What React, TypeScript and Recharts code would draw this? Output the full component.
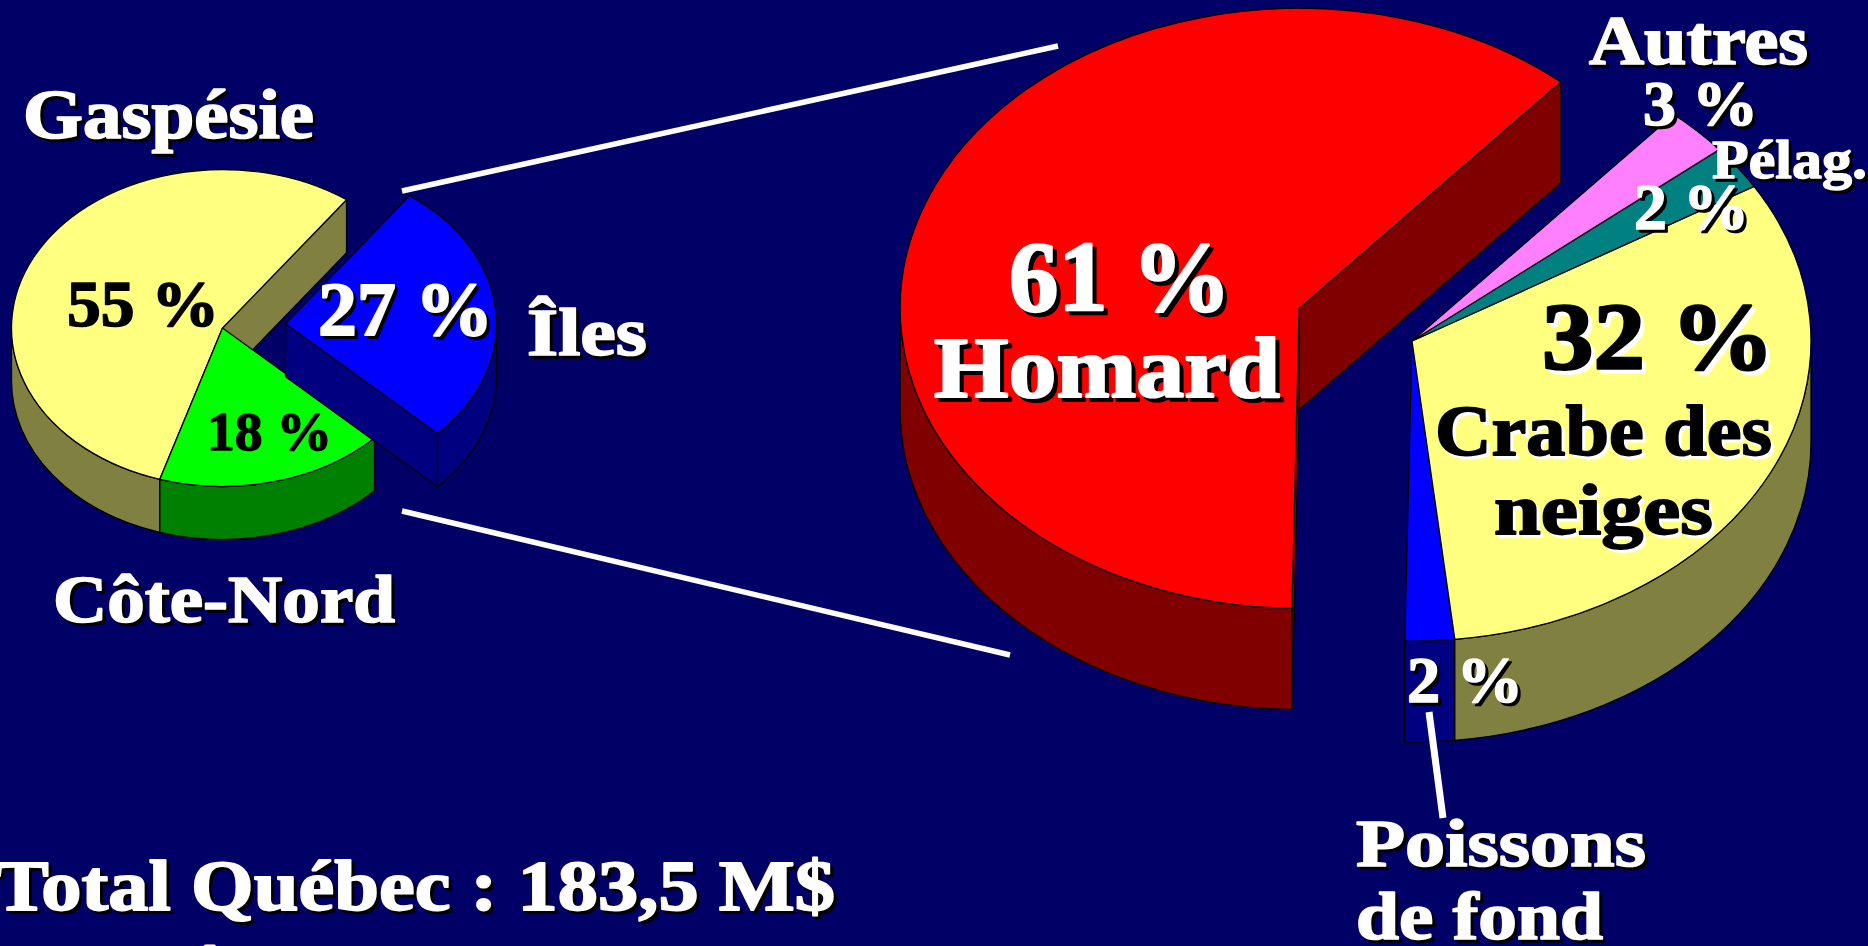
import { Pie, PieChart } from "recharts";

const WIDTH = 1868;
const HEIGHT = 946;
const BACKGROUND = "#000066";

// share of landings by region
const regionNames = ["Gaspésie", "Côte-Nord", "Îles"];
const regionValues = [55.2, 17.6, 27.2];
const regionTops = ["#FFFF80", "#00FF00", "#0000FF"];
const regionSides = ["#808040", "#008000", "#000080"];
const regionExplode = [0, 0, 0.3];

// share by species
const speciesNames = ["Homard", "Poissons de fond", "Crabe des neiges", "Pélag.", "Autres"];
const speciesValues = [61.1, 2, 31.9, 2.4, 2.6];
const speciesTops = ["#FF0000", "#0000FF", "#FFFF80", "#008080", "#FF80FF"];
const speciesSides = ["#800000", "#000080", "#808040", "#004040", "#804080"];
const speciesExplode = [0.303, 0, 0, 0, 0];

const toRows = (names: string[], values: number[]) =>
  names.map((name, i) => ({ name, value: values[i] }));

type SliceStyle = {
  names: string[];
  tops: string[];
  sides: string[];
  explode: number[];
  tilt: number;
  depth: number;
};

const rad = (a: number) => (a * Math.PI) / 180;

// recharts gives the angles, this squashes the sector into a tilted 3D one
function slice3d({ names, tops, sides, explode, tilt, depth }: SliceStyle) {
  return function Slice3d(props: any) {
    const { cx, cy, outerRadius, startAngle, endAngle } = props;
    const i = names.indexOf(props.name ?? props.payload?.name);
    const n = names.length;
    const s = Math.min(startAngle, endAngle);
    const e = Math.max(startAngle, endAngle);
    const rx = outerRadius;
    const ry = outerRadius * tilt;
    const mid = rad((s + e) / 2);
    const ox = cx + explode[i] * rx * Math.cos(mid);
    const oy = cy - explode[i] * ry * Math.sin(mid);
    const px = (a: number) => ox + rx * Math.cos(rad(a));
    const py = (a: number, down = 0) => oy - ry * Math.sin(rad(a)) + down;

    const walls: string[] = [];
    for (let k = 0; k < 3; k++) {
      const lo = Math.max(s, 180 + 360 * k);
      const hi = Math.min(e, 360 + 360 * k);
      if (hi > lo) {
        walls.push(
          `M${px(lo)},${py(lo)} A${rx},${ry} 0 0 0 ${px(hi)},${py(hi)} ` +
            `L${px(hi)},${py(hi, depth)} A${rx},${ry} 0 0 1 ${px(lo)},${py(lo, depth)} Z`,
        );
      }
    }

    const face = (a: number) =>
      `M${ox},${oy} L${px(a)},${py(a)} L${px(a)},${py(a, depth)} L${ox},${oy + depth} Z`;
    const faces: string[] = [];
    if (explode[i] !== explode[(i - 1 + n) % n] && Math.cos(rad(s)) > 0) faces.push(face(s));
    if (explode[i] !== explode[(i + 1) % n] && Math.cos(rad(e)) < 0) faces.push(face(e));

    const large = e - s > 180 ? 1 : 0;
    const top = `M${ox},${oy} L${px(s)},${py(s)} A${rx},${ry} 0 ${large} 0 ${px(e)},${py(e)} Z`;

    return (
      <g stroke="#000" strokeWidth={1.3} strokeLinejoin="round">
        {faces.map((d) => (
          <path key={d} d={d} fill={sides[i]} />
        ))}
        {walls.map((d) => (
          <path key={d} d={d} fill={sides[i]} />
        ))}
        <path d={top} fill={tops[i]} />
      </g>
    );
  };
}

const regionSlice = slice3d({
  names: regionNames,
  tops: regionTops,
  sides: regionSides,
  explode: regionExplode,
  tilt: 0.751,
  depth: 53,
});

const speciesSlice = slice3d({
  names: speciesNames,
  tops: speciesTops,
  sides: speciesSides,
  explode: speciesExplode,
  tilt: 0.752,
  depth: 101,
});

type Note = {
  t: string;
  x: number;
  y: number;
  w: number;
  size: number;
  dark?: boolean;
  flat?: boolean;
};

const notes: Note[] = [
  { t: "Gaspésie", x: 23, y: 138, w: 291, size: 69 },
  { t: "Côte-Nord", x: 53, y: 622, w: 342, size: 68 },
  { t: "Îles", x: 527, y: 355, w: 120, size: 68 },
  { t: "55 %", x: 67, y: 326, w: 152, size: 65, dark: true, flat: true },
  { t: "18 %", x: 207, y: 450, w: 125, size: 55, dark: true, flat: true },
  { t: "27 %", x: 318, y: 335, w: 175, size: 76 },
  { t: "61 %", x: 1009, y: 310, w: 222, size: 100 },
  { t: "Homard", x: 934, y: 397, w: 346, size: 87 },
  { t: "Autres", x: 1589, y: 64, w: 219, size: 69 },
  { t: "3 %", x: 1643, y: 125, w: 115, size: 64 },
  { t: "Pélag.", x: 1712, y: 178, w: 155, size: 55 },
  { t: "2 %", x: 1634, y: 229, w: 115, size: 65 },
  { t: "32 %", x: 1542, y: 369, w: 232, size: 96, dark: true },
  { t: "Crabe des", x: 1435, y: 455, w: 337, size: 71, dark: true },
  { t: "neiges", x: 1494, y: 534, w: 219, size: 71, dark: true },
  { t: "2 %", x: 1407, y: 702, w: 116, size: 66 },
  { t: "Poissons", x: 1356, y: 866, w: 290, size: 68 },
  { t: "de fond", x: 1356, y: 939, w: 247, size: 68 },
  { t: "Total Québec : 183,5 M$", x: -5, y: 910, w: 840, size: 72 },
  { t: "Î", x: 193, y: 1008, w: 34, size: 72 },
];

const leaders = [
  { x1: 402, y1: 191, x2: 1058, y2: 46, w: 5.5 },
  { x1: 402, y1: 511, x2: 1010, y2: 655, w: 5.5 },
  { x1: 1429, y1: 712, x2: 1443, y2: 818, w: 7 },
];

export default function App() {
  return (
    <div
      style={{
        position: "absolute",
        left: 0,
        top: 0,
        width: WIDTH,
        height: HEIGHT,
        overflow: "hidden",
        background: BACKGROUND,
      }}
    >
      <PieChart width={WIDTH} height={HEIGHT} margin={{ top: 0, right: 0, bottom: 0, left: 0 }}>
        <Pie
          data={toRows(regionNames, regionValues)}
          dataKey="value"
          cx={222.5}
          cy={328}
          outerRadius={211}
          startAngle={54}
          endAngle={414}
          stroke="none"
          shape={regionSlice}
          isAnimationActive={false}
        />
        <Pie
          data={toRows(speciesNames, speciesValues)}
          dataKey="value"
          cx={1412}
          cy={341}
          outerRadius={399}
          startAngle={49}
          endAngle={409}
          stroke="none"
          shape={speciesSlice}
          isAnimationActive={false}
        />
      </PieChart>
      <svg
        width={WIDTH}
        height={HEIGHT}
        style={{ position: "absolute", left: 0, top: 0, pointerEvents: "none" }}
      >
        {leaders.map((l) => (
          <line key={l.x1 + "-" + l.y1} x1={l.x1} y1={l.y1} x2={l.x2} y2={l.y2} stroke="#fff" strokeWidth={l.w} />
        ))}
        {notes.map((n) => {
          const colour = n.dark ? "#000" : "#fff";
          const drop = n.size > 80 ? 4 : 3;
          return (
            <text
              key={n.t + n.x}
              x={n.x}
              y={n.y}
              textLength={n.w}
              lengthAdjust="spacingAndGlyphs"
              fontFamily="'Liberation Serif', serif"
              fontWeight="bold"
              fontSize={n.size}
              fill={colour}
              stroke={colour}
              strokeWidth={n.size / 40}
              strokeLinejoin="round"
              style={
                n.flat
                  ? undefined
                  : { filter: `drop-shadow(${drop}px ${drop}px 0 ${n.dark ? "#fff" : "#000"})` }
              }
            >
              {n.t}
            </text>
          );
        })}
      </svg>
    </div>
  );
}
